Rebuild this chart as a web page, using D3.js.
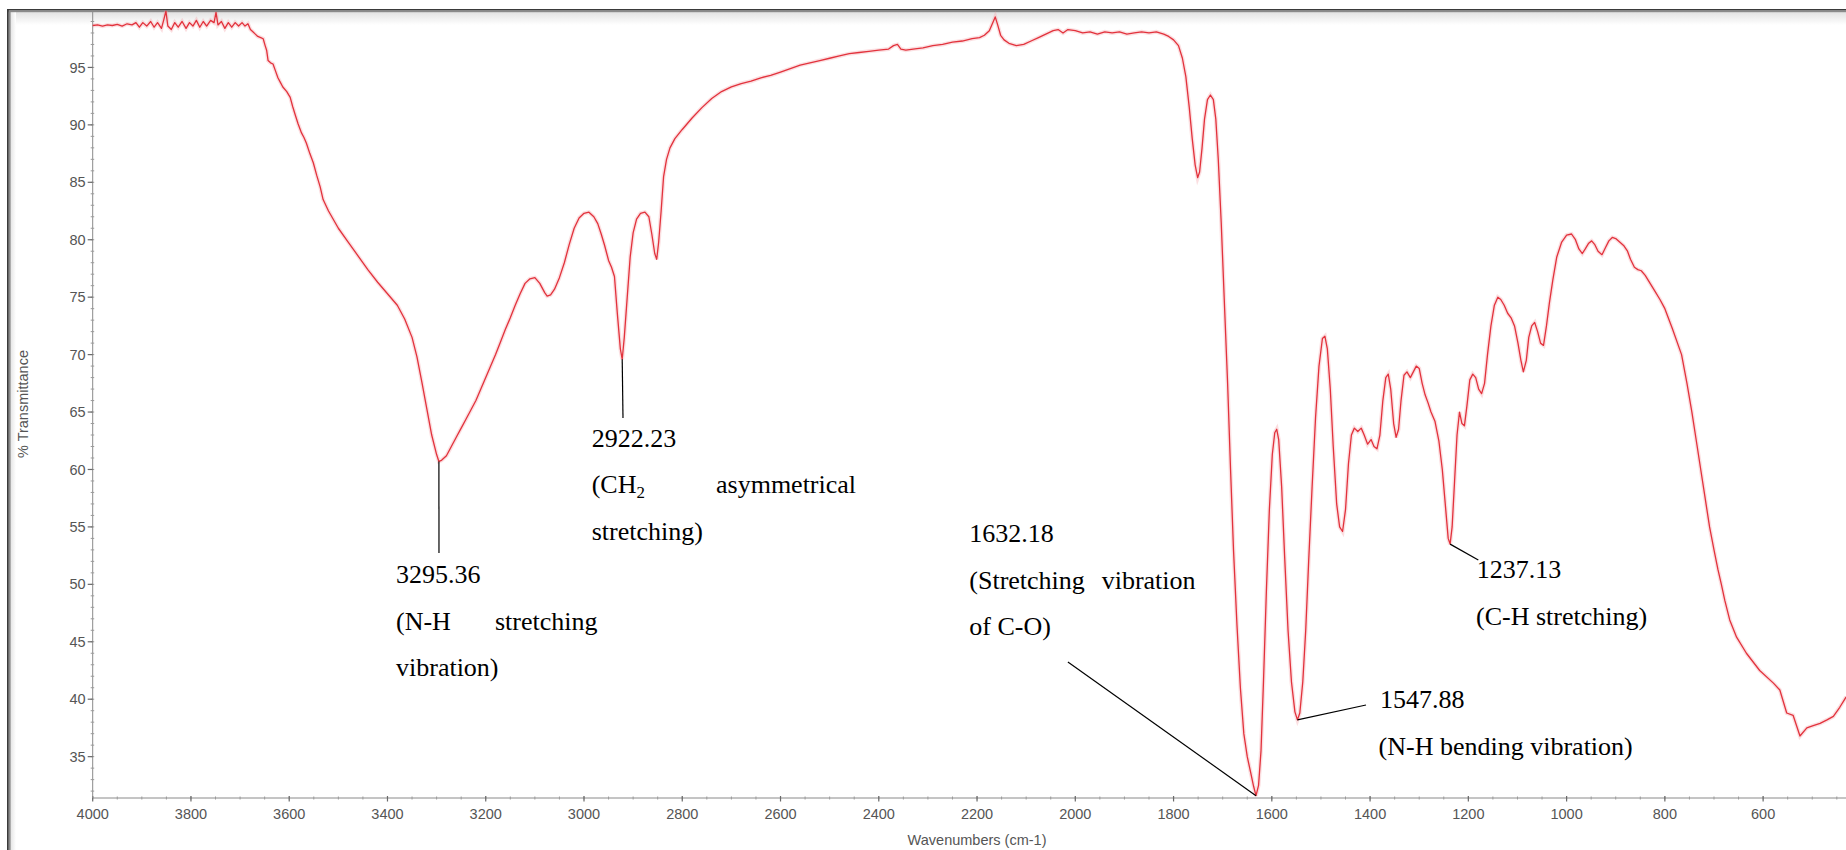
<!DOCTYPE html>
<html>
<head>
<meta charset="utf-8">
<script src="https://cdn.jsdelivr.net/npm/d3@7"></script>
<style>
  html, body { margin: 0; padding: 0; background: #ffffff; }
  svg { display: block; }
</style>
</head>
<body>
<svg id="chart" width="1846" height="850"></svg>
<script>
// FTIR spectrum: wavenumber (cm-1) and % transmittance
const wavenumbers = [
  4000, 3990, 3980, 3970, 3960, 3950, 3940, 3930, 3920, 3912, 3905, 3898, 3890, 3882, 3875, 3868, 3860, 3855, 3851, 3847,
  3840, 3833, 3826, 3818, 3810, 3803, 3796, 3789, 3782, 3775, 3768, 3760, 3753, 3749, 3745, 3738, 3731, 3724, 3717, 3710,
  3703, 3696, 3690, 3684, 3679, 3674, 3669, 3664, 3658, 3653, 3649, 3646, 3643, 3638, 3633, 3628, 3623, 3618, 3613, 3605,
  3598, 3593, 3588, 3582, 3575, 3570, 3565, 3558, 3551, 3544, 3537, 3531, 3520, 3500, 3480, 3460, 3440, 3420, 3400, 3380,
  3365, 3350, 3340, 3330, 3320, 3310, 3300, 3295.36, 3290, 3280, 3270, 3260, 3250, 3240, 3230, 3220, 3210, 3200, 3190, 3180,
  3170, 3160, 3150, 3140, 3130, 3120, 3110, 3100, 3090, 3080, 3075, 3068, 3060, 3050, 3040, 3030, 3020, 3010, 3000, 2990,
  2980, 2972, 2965, 2958, 2950, 2944, 2938, 2932, 2926, 2922.23, 2918, 2912, 2906, 2900, 2893, 2885, 2876, 2868, 2862, 2856,
  2852, 2848, 2843, 2838, 2832, 2825, 2815, 2800, 2780, 2760, 2740, 2720, 2700, 2680, 2660, 2640, 2620, 2600, 2580, 2560,
  2540, 2520, 2500, 2480, 2460, 2440, 2420, 2400, 2380, 2370, 2362, 2355, 2345, 2330, 2310, 2290, 2270, 2250, 2230, 2210,
  2195, 2185, 2175, 2168, 2163, 2158, 2152, 2145, 2135, 2120, 2105, 2090, 2075, 2060, 2045, 2035, 2025, 2015, 2000, 1985,
  1970, 1955, 1940, 1925, 1910, 1895, 1880, 1865, 1850, 1835, 1820, 1810, 1800, 1790, 1782, 1775, 1768, 1762, 1756, 1751,
  1747, 1742, 1737, 1731, 1725, 1719, 1714, 1709, 1703, 1697, 1690, 1684, 1678, 1671, 1664, 1657, 1650, 1643, 1637, 1632.18,
  1627, 1622, 1617, 1611, 1605, 1599, 1594, 1590, 1586, 1580, 1574, 1567, 1560, 1553, 1547.88, 1543, 1537, 1531, 1525, 1518,
  1511, 1504, 1497, 1492, 1487, 1481, 1475, 1468, 1462, 1456, 1450, 1444, 1438, 1432, 1425, 1418, 1412, 1405, 1398, 1392,
  1386, 1380, 1374, 1368, 1363, 1358, 1352, 1347, 1342, 1337, 1331, 1325, 1318, 1312, 1306, 1300, 1294, 1288, 1282, 1276,
  1268, 1260, 1253, 1246, 1241, 1237.13, 1233, 1228, 1223, 1218, 1213, 1208, 1203, 1197, 1191, 1185, 1179, 1173, 1167, 1161,
  1154, 1147, 1140, 1134, 1127, 1120, 1113, 1106, 1099, 1093, 1088, 1082, 1077, 1071, 1065, 1059, 1053, 1047, 1041, 1035,
  1028, 1020, 1010, 1000, 990, 982, 975, 968, 962, 955, 949, 943, 936, 928, 921, 914, 907, 900, 892, 884,
  876, 870, 862, 855, 848, 840, 830, 820, 810, 800, 785, 766, 755, 745, 736, 727, 718, 709, 700, 692,
  685, 678, 668, 654, 634, 607, 579, 566, 552, 539, 525, 511, 498, 484, 470, 457, 444, 431
];
const transmittance = [
  98.65, 98.7, 98.6, 98.7, 98.65, 98.75, 98.6, 98.8, 98.7, 98.9, 98.5, 98.9, 98.6, 99.0, 98.5, 98.9, 98.4, 99.2, 99.9, 98.6,
  98.3, 98.9, 98.5, 99.0, 98.4, 98.9, 98.6, 99.1, 98.5, 99.0, 98.6, 99.1, 98.9, 99.8, 98.7, 99.0, 98.4, 98.9, 98.5, 98.9,
  98.6, 98.9, 98.6, 98.8, 98.3, 98.1, 97.9, 97.7, 97.6, 97.5, 96.9, 96.5, 95.6, 95.4, 95.3, 94.7, 94.1, 93.7, 93.3, 92.9,
  92.4, 91.6, 90.9, 90.1, 89.3, 88.9, 88.4, 87.5, 86.7, 85.6, 84.6, 83.5, 82.5, 81.0, 79.8, 78.6, 77.4, 76.3, 75.3, 74.3,
  73.1, 71.5, 69.8, 67.6, 65.3, 63.0, 61.3, 60.7, 60.8, 61.2, 62.0, 62.8, 63.6, 64.4, 65.2, 66.0, 67.0, 68.0, 69.0, 70.0,
  71.1, 72.2, 73.2, 74.3, 75.3, 76.2, 76.6, 76.7, 76.2, 75.4, 75.1, 75.2, 75.7, 76.7, 78.0, 79.6, 81.0, 81.9, 82.3, 82.4,
  82.0, 81.4, 80.5, 79.5, 78.2, 77.6, 76.8, 73.5, 70.5, 69.6, 71.5, 75.0, 78.5, 80.6, 81.8, 82.3, 82.4, 82.0, 80.5, 78.8,
  78.3, 79.8, 82.5, 85.5, 87.0, 88.0, 88.8, 89.6, 90.6, 91.5, 92.3, 92.9, 93.3, 93.6, 93.8, 94.1, 94.3, 94.6, 94.9, 95.2,
  95.4, 95.6, 95.8, 96.0, 96.2, 96.3, 96.4, 96.5, 96.6, 96.9, 97.0, 96.6, 96.5, 96.6, 96.7, 96.9, 97.0, 97.2, 97.3, 97.5,
  97.6, 97.8, 98.2, 98.9, 99.4, 98.7, 97.8, 97.4, 97.1, 96.9, 97.0, 97.3, 97.6, 97.9, 98.2, 98.3, 98.0, 98.3, 98.2, 98.0,
  98.1, 97.9, 98.1, 98.0, 98.1, 97.9, 98.0, 98.1, 98.0, 98.1, 97.9, 97.7, 97.4, 96.9, 95.8, 94.2, 91.5, 88.8, 86.5, 85.4,
  85.9, 88.0, 90.5, 92.2, 92.6, 92.2, 90.5, 87.0, 81.5, 75.0, 67.5, 60.0, 53.0, 46.5, 41.0, 37.0, 35.0, 33.6, 32.4, 31.6,
  32.5, 35.5, 41.5, 49.5, 56.5, 61.3, 63.2, 63.5, 62.6, 58.5, 52.5, 46.0, 41.5, 38.9, 38.2, 38.8, 41.5, 46.0, 52.0, 58.5,
  64.5, 69.0, 71.4, 71.6, 70.5, 67.0, 62.0, 57.0, 55.0, 54.6, 56.5, 60.5, 63.0, 63.6, 63.3, 63.6, 63.0, 62.2, 62.6, 62.0,
  61.8, 63.0, 66.0, 68.0, 68.3, 67.0, 64.0, 62.8, 63.5, 66.0, 68.2, 68.5, 68.0, 68.5, 69.0, 68.8, 67.5, 66.5, 65.8, 65.0,
  64.2, 62.5, 60.0, 56.5, 54.0, 53.5, 55.0, 59.0, 63.0, 65.0, 64.0, 63.8, 65.5, 67.8, 68.3, 68.0, 67.0, 66.6, 67.5, 70.0,
  72.5, 74.3, 75.0, 74.8, 74.3, 73.6, 73.2, 72.5, 71.0, 69.5, 68.5, 69.5, 71.5, 72.5, 72.8, 72.0, 71.0, 70.8, 72.5, 74.5,
  76.5, 78.5, 79.8, 80.4, 80.5, 80.0, 79.2, 78.8, 79.2, 79.7, 79.9, 79.6, 79.0, 78.7, 79.3, 79.9, 80.2, 80.1, 79.8, 79.5,
  79.0, 78.3, 77.6, 77.4, 77.3, 76.9, 76.2, 75.5, 74.8, 74.0, 72.3, 70.0, 67.5, 65.0, 62.5, 60.0, 57.5, 55.0, 53.0, 51.3,
  50.0, 48.6, 46.9, 45.4, 44.0, 42.5, 41.4, 40.8, 38.8, 38.6, 36.8, 37.5, 37.7, 37.9, 38.2, 38.5, 39.3, 40.2
];

// Axis ticks
const xTickValues = [4000, 3800, 3600, 3400, 3200, 3000, 2800, 2600, 2400, 2200, 2000, 1800, 1600, 1400, 1200, 1000, 800, 600];
const yTickValues = [35, 40, 45, 50, 55, 60, 65, 70, 75, 80, 85, 90, 95];

// Assigned bands
const peakWavenumbers = [3295.36, 2922.23, 1632.18, 1547.88, 1237.13];
const peakTransmittance = [60.7, 69.6, 31.6, 38.2, 53.5];
const peakNotes = [
  [["(N-H", "stretching"], ["vibration)"]],
  [["(CH_2", "asymmetrical"], ["stretching)"]],
  [["(Stretching", "vibration"], ["of C-O)"]],
  [["(N-H bending vibration)"]],
  [["(C-H stretching)"]]
];

const svg = d3.select("#chart");
const W = 1846, H = 850;

const x = d3.scaleLinear().domain([4000, 400]).range([92.7, 92.7 + 3600 * 0.4913]);
const y = d3.scaleLinear().domain([31.4, 100]).range([798, 10]);

const axisFont = "'Liberation Sans', Arial, sans-serif";
const noteFont = "'Liberation Serif', 'Times New Roman', serif";

// Frame edges (top and left)
const defs = svg.append("defs");
const gTop = defs.append("linearGradient").attr("id", "shadeTop").attr("x1", 0).attr("y1", 0).attr("x2", 0).attr("y2", 1);
gTop.append("stop").attr("offset", 0).attr("stop-color", "#e2e2e2");
gTop.append("stop").attr("offset", 1).attr("stop-color", "#ffffff");
const gLeft = defs.append("linearGradient").attr("id", "shadeLeft").attr("x1", 0).attr("y1", 0).attr("x2", 1).attr("y2", 0);
gLeft.append("stop").attr("offset", 0).attr("stop-color", "#e2e2e2");
gLeft.append("stop").attr("offset", 1).attr("stop-color", "#ffffff");

svg.append("rect").attr("x", 10).attr("y", 12).attr("width", W - 10).attr("height", 13).attr("fill", "url(#shadeTop)");
svg.append("rect").attr("x", 10).attr("y", 12).attr("width", 6).attr("height", H - 12).attr("fill", "url(#shadeLeft)");
svg.append("rect").attr("x", 7).attr("y", 9).attr("width", W - 7).attr("height", 1.6).attr("fill", "#3a3a3a");
svg.append("rect").attr("x", 7).attr("y", 10.6).attr("width", W - 7).attr("height", 1.6).attr("fill", "#8a8a8a");
svg.append("rect").attr("x", 7).attr("y", 9).attr("width", 1.8).attr("height", H - 9).attr("fill", "#3a3a3a");
svg.append("rect").attr("x", 8.8).attr("y", 10.6).attr("width", 1.8).attr("height", H - 10.6).attr("fill", "#8a8a8a");

// Axes
const axisColor = "#8a8a8a";
const xAxisG = svg.append("g").attr("transform", `translate(0,${y.range()[0]})`);
xAxisG.append("line")
  .attr("x1", x(4000)).attr("x2", W).attr("y1", 0).attr("y2", 0)
  .attr("stroke", axisColor).attr("stroke-width", 1);
xAxisG.selectAll("line.minor").data(d3.range(4000, 400, -50))
  .join("line").attr("class", "minor")
  .attr("x1", d => x(d)).attr("x2", d => x(d)).attr("y1", -1.5).attr("y2", 1.5)
  .attr("stroke", "#9a9a9a").attr("stroke-width", 1);
xAxisG.selectAll("line.major").data(xTickValues)
  .join("line").attr("class", "major")
  .attr("x1", d => x(d)).attr("x2", d => x(d)).attr("y1", -2).attr("y2", 3.5)
  .attr("stroke", "#6a6a6a").attr("stroke-width", 1.2);
xAxisG.selectAll("text").data(xTickValues)
  .join("text")
  .attr("x", d => x(d)).attr("y", 21)
  .attr("text-anchor", "middle")
  .attr("font-family", axisFont).attr("font-size", 14.5)
  .attr("fill", "#555")
  .text(d => d);

const yAxisG = svg.append("g").attr("transform", `translate(${x(4000)},0)`);
yAxisG.append("line")
  .attr("x1", 0).attr("x2", 0).attr("y1", y(100)).attr("y2", y(31.4))
  .attr("stroke", axisColor).attr("stroke-width", 1);
yAxisG.selectAll("line.minor").data(d3.range(32, 100, 1))
  .join("line").attr("class", "minor")
  .attr("x1", -2).attr("x2", 1.5).attr("y1", d => y(d)).attr("y2", d => y(d))
  .attr("stroke", "#9a9a9a").attr("stroke-width", 1);
yAxisG.selectAll("line.major").data(yTickValues)
  .join("line").attr("class", "major")
  .attr("x1", -5).attr("x2", 0).attr("y1", d => y(d)).attr("y2", d => y(d))
  .attr("stroke", "#6a6a6a").attr("stroke-width", 1.2);
yAxisG.selectAll("text").data(yTickValues)
  .join("text")
  .attr("x", -7).attr("y", d => y(d)).attr("dy", "0.35em")
  .attr("text-anchor", "end")
  .attr("font-family", axisFont).attr("font-size", 14.5)
  .attr("fill", "#555")
  .text(d => d);

// Axis titles
svg.append("text")
  .attr("x", (x(4000) + x(400)) / 2).attr("y", 845)
  .attr("text-anchor", "middle")
  .attr("font-family", axisFont).attr("font-size", 14.5).attr("fill", "#555")
  .text("Wavenumbers (cm-1)");
svg.append("text")
  .attr("transform", `translate(28,${(y(100) + y(31.4)) / 2}) rotate(-90)`)
  .attr("text-anchor", "middle")
  .attr("font-family", axisFont).attr("font-size", 14.5).attr("fill", "#555")
  .text("% Transmittance");

// Spectrum trace
const spectrum = wavenumbers.map((w, i) => [w, transmittance[i]]);
const path = d3.line().x(d => x(d[0])).y(d => y(d[1])).curve(d3.curveLinear);

svg.append("path").datum(spectrum)
  .attr("d", path).attr("fill", "none")
  .attr("stroke", "#f3a3aa").attr("stroke-opacity", 0.35).attr("stroke-width", 4);
svg.append("path").datum(spectrum)
  .attr("d", path).attr("fill", "none")
  .attr("stroke", "#e2323c").attr("stroke-width", 1.3).attr("stroke-linejoin", "round");

// Band annotations: text block anchor (px), word offsets (px) and leader end
const noteLayout = [
  { left: 396, top: 583, words: [[0, 99], [0]], lead: [439, 553] },
  { left: 591.7, top: 446.7, words: [[0, 124.3], [0]], lead: [623, 418] },
  { left: 969.3, top: 542.3, words: [[0, 132.4], [0]], lead: [1067.9, 662] },
  { left: 1380, top: 708, words: [[-1.4]], lead: [1366, 705] },
  { left: 1476.7, top: 578.3, words: [[-0.7]], lead: [1478.3, 560] }
];
const lineGap = 46.5;
const noteSize = 26;

const notes = svg.append("g").attr("font-family", noteFont).attr("font-size", noteSize).attr("fill", "#000");
peakWavenumbers.forEach((wn, i) => {
  const L = noteLayout[i];
  const px = x(wn), py = y(peakTransmittance[i]);
  notes.append("line")
    .attr("x1", px).attr("y1", py).attr("x2", L.lead[0]).attr("y2", L.lead[1])
    .attr("stroke", "#000").attr("stroke-width", 1.2);
  notes.append("text").attr("x", L.left).attr("y", L.top).text(d3.format(".2f")(wn));
  peakNotes[i].forEach((words, li) => {
    words.forEach((word, wi) => {
      const t = notes.append("text")
        .attr("x", L.left + L.words[li][wi])
        .attr("y", L.top + lineGap * (li + 1));
      if (word.includes("_")) {
        const [base, sub] = word.split("_");
        t.append("tspan").text(base);
        t.append("tspan").attr("font-size", noteSize * 0.65).attr("dy", 5).text(sub);
      } else {
        t.text(word);
      }
    });
  });
});
</script>
</body>
</html>
